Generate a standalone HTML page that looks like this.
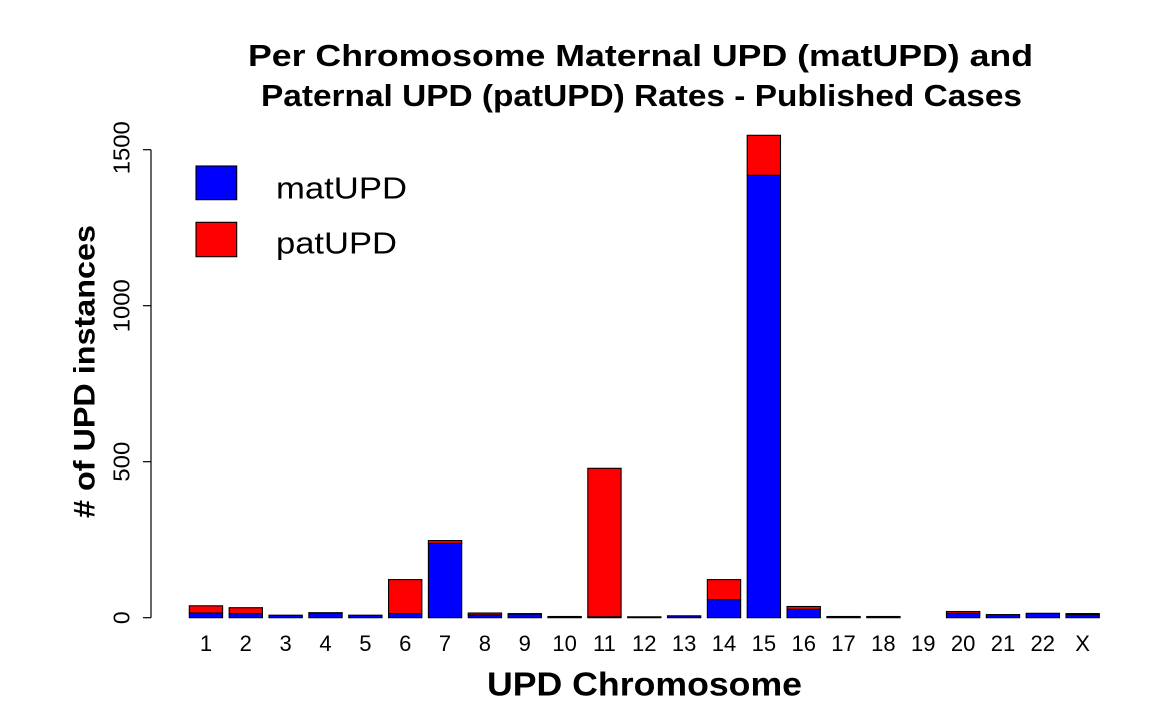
<!DOCTYPE html>
<html>
<head>
<meta charset="utf-8">
<style>
html,body{margin:0;padding:0;background:#fff;}
svg{display:block;}
text{font-family:"Liberation Sans",Arial,sans-serif;fill:#000;}
.b{font-weight:bold;}
</style>
</head>
<body>
<svg width="1154" height="727" viewBox="0 0 1154 727" xmlns="http://www.w3.org/2000/svg">
<rect width="1154" height="727" fill="#fff"/>
<!-- Title -->
<text class="b" x="640.5" y="66" font-size="30.5" text-anchor="middle" textLength="785" lengthAdjust="spacingAndGlyphs">Per Chromosome Maternal UPD (matUPD) and</text>
<text class="b" x="641.5" y="106" font-size="30.5" text-anchor="middle" textLength="761" lengthAdjust="spacingAndGlyphs">Paternal UPD (patUPD) Rates - Published Cases</text>

<!-- Y axis -->
<g stroke="#000" stroke-width="1.2" fill="none">
<line x1="151" y1="149.7" x2="151" y2="617.7"/>
<line x1="143" y1="617.7" x2="151" y2="617.7"/>
<line x1="143" y1="461.7" x2="151" y2="461.7"/>
<line x1="143" y1="305.7" x2="151" y2="305.7"/>
<line x1="143" y1="149.7" x2="151" y2="149.7"/>
</g>
<g font-size="23">
<text transform="translate(129.5,617.7) rotate(-90)" text-anchor="middle">0</text>
<text transform="translate(129.5,461.7) rotate(-90)" text-anchor="middle" textLength="40" lengthAdjust="spacingAndGlyphs">500</text>
<text transform="translate(129.5,305.7) rotate(-90)" text-anchor="middle" textLength="53" lengthAdjust="spacingAndGlyphs">1000</text>
<text transform="translate(129.5,147.7) rotate(-90)" text-anchor="middle" textLength="53" lengthAdjust="spacingAndGlyphs">1500</text>
</g>
<text class="b" transform="translate(94.5,371.5) rotate(-90)" font-size="30" text-anchor="middle" textLength="293" lengthAdjust="spacingAndGlyphs"># of UPD instances</text>

<!-- Bars -->
<g stroke="#000" stroke-width="1.1">
<rect x="189.3" y="613.0" width="33.3" height="4.7" fill="#0000ff"/>
<rect x="189.3" y="605.8" width="33.3" height="7.2" fill="#ff0000"/>
<rect x="229.15" y="613.6" width="33.3" height="4.1" fill="#0000ff"/>
<rect x="229.15" y="607.7" width="33.3" height="5.9" fill="#ff0000"/>
<rect x="269.0" y="615.2" width="33.3" height="2.5" fill="#0000ff"/>
<rect x="308.85" y="613.0" width="33.3" height="4.7" fill="#0000ff"/>
<rect x="308.85" y="612.7" width="33.3" height="0.3" fill="#ff0000"/>
<rect x="348.7" y="615.2" width="33.3" height="2.5" fill="#0000ff"/>
<rect x="388.55" y="613.6" width="33.3" height="4.1" fill="#0000ff"/>
<rect x="388.55" y="579.6" width="33.3" height="34.0" fill="#ff0000"/>
<rect x="428.4" y="543.4" width="33.3" height="74.3" fill="#0000ff"/>
<rect x="428.4" y="540.6" width="33.3" height="2.8" fill="#ff0000"/>
<rect x="468.25" y="614.9" width="33.3" height="2.8" fill="#0000ff"/>
<rect x="468.25" y="613.0" width="33.3" height="1.9" fill="#ff0000"/>
<rect x="508.1" y="614.0" width="33.3" height="3.7" fill="#0000ff"/>
<rect x="508.1" y="613.6" width="33.3" height="0.4" fill="#ff0000"/>
<rect x="547.95" y="617.1" width="33.3" height="0.6" fill="#0000ff"/>
<rect x="547.95" y="616.5" width="33.3" height="0.6" fill="#ff0000"/>
<rect x="587.8" y="616.8" width="33.3" height="0.9" fill="#0000ff"/>
<rect x="587.8" y="468.3" width="33.3" height="148.5" fill="#ff0000"/>
<rect x="627.65" y="616.8" width="33.3" height="0.9" fill="#0000ff"/>
<rect x="667.5" y="615.8" width="33.3" height="1.9" fill="#0000ff"/>
<rect x="707.35" y="599.6" width="33.3" height="18.1" fill="#0000ff"/>
<rect x="707.35" y="579.6" width="33.3" height="20.0" fill="#ff0000"/>
<rect x="747.2" y="175.3" width="33.3" height="442.4" fill="#0000ff"/>
<rect x="747.2" y="135.3" width="33.3" height="40.0" fill="#ff0000"/>
<rect x="787.05" y="609.3" width="33.3" height="8.4" fill="#0000ff"/>
<rect x="787.05" y="606.5" width="33.3" height="2.8" fill="#ff0000"/>
<rect x="826.9" y="616.5" width="33.3" height="1.2" fill="#0000ff"/>
<rect x="866.75" y="616.5" width="33.3" height="1.2" fill="#0000ff"/>
<rect x="946.45" y="613.3" width="33.3" height="4.4" fill="#0000ff"/>
<rect x="946.45" y="611.5" width="33.3" height="1.8" fill="#ff0000"/>
<rect x="986.3" y="614.6" width="33.3" height="3.1" fill="#0000ff"/>
<rect x="1026.15" y="613.3" width="33.3" height="4.4" fill="#0000ff"/>
<rect x="1066.0" y="614.6" width="33.3" height="3.1" fill="#0000ff"/>
<rect x="1066.0" y="613.6" width="33.3" height="1.0" fill="#ff0000"/>
</g>

<!-- X tick labels -->
<g font-size="22" text-anchor="middle">
<text x="205.95" y="651">1</text>
<text x="245.8" y="651">2</text>
<text x="285.65" y="651">3</text>
<text x="325.5" y="651">4</text>
<text x="365.35" y="651">5</text>
<text x="405.2" y="651">6</text>
<text x="445.05" y="651">7</text>
<text x="484.9" y="651">8</text>
<text x="524.75" y="651">9</text>
<text x="564.6" y="651">10</text>
<text x="604.45" y="651">11</text>
<text x="644.3" y="651">12</text>
<text x="684.15" y="651">13</text>
<text x="724.0" y="651">14</text>
<text x="763.85" y="651">15</text>
<text x="803.7" y="651">16</text>
<text x="843.55" y="651">17</text>
<text x="883.4" y="651">18</text>
<text x="923.25" y="651">19</text>
<text x="963.1" y="651">20</text>
<text x="1002.95" y="651">21</text>
<text x="1042.8" y="651">22</text>
<text x="1082.65" y="651">X</text>
</g>
<text class="b" x="644.5" y="695.5" font-size="33" text-anchor="middle" textLength="315" lengthAdjust="spacingAndGlyphs">UPD Chromosome</text>

<!-- Legend -->
<rect x="196" y="166" width="40.7" height="33.7" fill="#0000ff" stroke="#000" stroke-width="1.1"/>
<rect x="196" y="222.3" width="40.7" height="34.4" fill="#ff0000" stroke="#000" stroke-width="1.1"/>
<text x="276" y="198.5" font-size="31" textLength="131" lengthAdjust="spacingAndGlyphs">matUPD</text>
<text x="276" y="253.5" font-size="31" textLength="121" lengthAdjust="spacingAndGlyphs">patUPD</text>
</svg>
</body>
</html>
